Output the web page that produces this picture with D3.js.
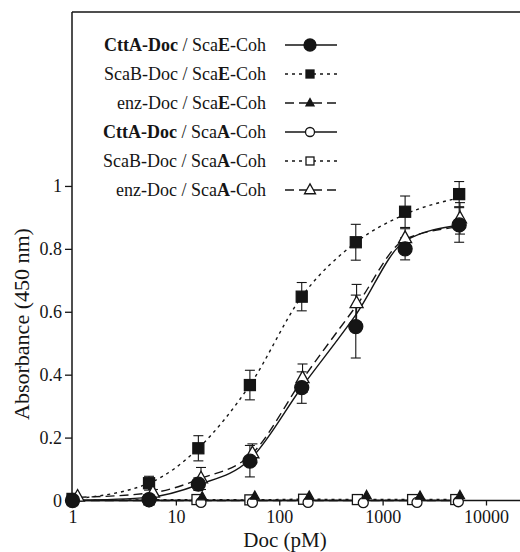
<!DOCTYPE html>
<html>
<head>
<meta charset="utf-8">
<script src="https://cdn.jsdelivr.net/npm/d3@7"></script>
<style>
  body { margin: 0; background: #fff; }
  svg { display: block; font-family: "Liberation Serif", "DejaVu Serif", serif; }
</style>
</head>
<body>
<div id="chart"></div>
<script>
// dose (pM) and absorbance values
const doses = [1, 5.5, 16.5, 52, 165, 550, 1650, 5500];

const cttaScaE = [0, 0.003, 0.052, 0.125, 0.359, 0.553, 0.8, 0.876];
const cttaScaEErr = [0, 0.005, 0.02, 0.05, 0.05, 0.1, 0.035, 0.055];
const cttaScaEFit = [0, 0.01, 0.05, 0.13, 0.36, 0.59, 0.825, 0.875];

const scabScaE = [0.005, 0.055, 0.166, 0.367, 0.648, 0.821, 0.918, 0.974];
const scabScaEErr = [0, 0.022, 0.04, 0.047, 0.045, 0.057, 0.05, 0.04];
const scabScaEFit = [0.005, 0.055, 0.166, 0.367, 0.648, 0.82, 0.91, 0.962];

const enzScaADoses = [1.12, 6, 17.5, 55, 168, 560, 1650, 5600];
const enzScaA = [0.012, 0.025, 0.07, 0.15, 0.389, 0.627, 0.834, 0.897];
const enzScaAErr = [0, 0.01, 0.035, 0.03, 0.045, 0.06, 0.03, 0.05];
const enzScaAFit = [0.01, 0.025, 0.07, 0.15, 0.385, 0.62, 0.83, 0.87];

const enzScaEDoses = [1.1, 6, 18, 58, 195, 700, 2300, 5600];
const enzScaE = [0.008, 0.01, 0.012, 0.014, 0.014, 0.016, 0.014, 0.016];

const cttaScaADoses = [1, 5.5, 17.5, 55, 190, 650, 2150, 5400];
const cttaScaA = [0, -0.004, -0.006, -0.006, -0.006, -0.007, -0.006, -0.004];

const scabScaADoses = [1, 5.5, 16, 52, 172, 570, 1950, 5100];
const scabScaA = [0, 0.002, 0.003, 0.002, 0.004, 0.003, 0.003, 0.003];

const yTicks = [0, 0.2, 0.4, 0.6, 0.8, 1];
const xTicks = [1, 10, 100, 1000, 10000];

const legendRows = [
  { parts: [["CttA-Doc", true], [" / Sca", false], ["E", true], ["-Coh", false]], key: "cE" },
  { parts: [["ScaB-Doc / Sca", false], ["E", true], ["-Coh", false]], key: "sE" },
  { parts: [["enz-Doc / Sca", false], ["E", true], ["-Coh", false]], key: "eE" },
  { parts: [["CttA-Doc", true], [" / Sca", false], ["A", true], ["-Coh", false]], key: "cA" },
  { parts: [["ScaB-Doc / Sca", false], ["A", true], ["-Coh", false]], key: "sA" },
  { parts: [["enz-Doc / Sca", false], ["A", true], ["-Coh", false]], key: "eA" }
];

const W = 520, H = 552;
const ink = "#151515";

const svg = d3.select("#chart").append("svg").attr("width", W).attr("height", H);

const x = d3.scaleLog().domain([1, 10000]).range([72.5, 486]);
const y = d3.scaleLinear().domain([0, 1.553]).range([500.5, 12]);

// series styles
const styles = {
  cE: { dash: null, marker: "circle", fill: ink },
  sE: { dash: "3,4", marker: "square", fill: ink },
  eE: { dash: "9,5", marker: "triangle", fill: ink },
  cA: { dash: null, marker: "circle", fill: "#fff" },
  sA: { dash: "3,4", marker: "square", fill: "#fff" },
  eA: { dash: "9,5", marker: "triangle", fill: "#fff" }
};

function zip(xs, ys, errs) {
  return xs.map((d, i) => ({ x: d, y: ys[i], e: errs ? errs[i] : 0 }));
}

const series = [
  { key: "sA", pts: zip(scabScaADoses, scabScaA), fit: zip(scabScaADoses, scabScaA), size: 10 },
  { key: "cA", pts: zip(cttaScaADoses, cttaScaA), fit: zip(cttaScaADoses, cttaScaA.map(() => 0)), size: 5 },
  { key: "eE", pts: zip(enzScaEDoses, enzScaE), fit: zip(enzScaEDoses, enzScaE.map(() => 0)), size: 9 },
  { key: "sE", pts: zip(doses, scabScaE, scabScaEErr), fit: zip(doses, scabScaEFit), size: 11 },
  { key: "eA", pts: zip(enzScaADoses, enzScaA, enzScaAErr), fit: zip(enzScaADoses, enzScaAFit), size: 13 },
  { key: "cE", pts: zip(doses, cttaScaE, cttaScaEErr), fit: zip(doses, cttaScaEFit), size: 7 }
];

const line = d3.line().x(d => x(d.x)).y(d => y(d.y)).curve(d3.curveMonotoneX);

function drawMarker(g, type, cx, cy, s, fill) {
  if (type === "circle") {
    g.append("circle").attr("cx", cx).attr("cy", cy).attr("r", s)
      .attr("fill", fill).attr("stroke", ink).attr("stroke-width", 1.3);
  } else if (type === "square") {
    g.append("rect").attr("x", cx - s / 2).attr("y", cy - s / 2).attr("width", s).attr("height", s)
      .attr("fill", fill).attr("stroke", ink).attr("stroke-width", 1.3);
  } else {
    const h = s * 0.9;
    g.append("path")
      .attr("d", `M${cx},${cy - h * 0.62}L${cx + s / 2},${cy + h * 0.38}L${cx - s / 2},${cy + h * 0.38}Z`)
      .attr("fill", fill).attr("stroke", ink).attr("stroke-width", 1.3);
  }
}

// axes
const yAxis = svg.append("g").attr("transform", `translate(${x(1) - 0.5},0)`)
  .call(d3.axisLeft(y).tickValues(yTicks).tickSize(7).tickPadding(3).tickFormat(d3.format("")));
const xAxis = svg.append("g").attr("transform", `translate(0,${y(0)})`)
  .call(d3.axisBottom(x).tickValues(xTicks).tickSize(5).tickPadding(5).tickFormat(d3.format("")));
[yAxis, xAxis].forEach(a => {
  a.select(".domain").remove();
  a.selectAll("line").attr("stroke", ink).attr("stroke-width", 1.3);
  a.selectAll("text").attr("fill", ink).style("font-size", "18px").style("font-family", "'Liberation Serif', serif");
});

// frame: left axis, bottom axis, top line
svg.append("line").attr("x1", x(1) - 0.5).attr("x2", x(1) - 0.5).attr("y1", y.range()[1]).attr("y2", y(0))
  .attr("stroke", ink).attr("stroke-width", 1.5);
svg.append("line").attr("x1", x(1) - 0.5).attr("x2", W).attr("y1", y(0)).attr("y2", y(0))
  .attr("stroke", ink).attr("stroke-width", 1.5);
svg.append("line").attr("x1", x(1) - 0.5).attr("x2", W).attr("y1", y.range()[1]).attr("y2", y.range()[1])
  .attr("stroke", ink).attr("stroke-width", 1.5);

// axis titles
svg.append("text").attr("x", 285).attr("y", 547).attr("text-anchor", "middle")
  .attr("fill", ink).style("font-size", "21px").text("Doc (pM)");
svg.append("text").attr("transform", "translate(29,324) rotate(-90)").attr("text-anchor", "middle")
  .attr("fill", ink).style("font-size", "22px").text("Absorbance (450 nm)");

// curves
series.forEach(s => {
  svg.append("path").datum(s.fit).attr("d", line)
    .attr("fill", "none").attr("stroke", ink).attr("stroke-width", 1.4)
    .attr("stroke-dasharray", styles[s.key].dash);
});

// error bars
series.forEach(s => {
  const g = svg.append("g");
  s.pts.filter(d => d.e > 0.004).forEach(d => {
    const cx = x(d.x);
    g.append("line").attr("x1", cx).attr("x2", cx).attr("y1", y(d.y - d.e)).attr("y2", y(d.y + d.e))
      .attr("stroke", ink).attr("stroke-width", 1.1);
    [d.y - d.e, d.y + d.e].forEach(v => {
      g.append("line").attr("x1", cx - 5).attr("x2", cx + 5).attr("y1", y(v)).attr("y2", y(v))
        .attr("stroke", ink).attr("stroke-width", 1.1);
    });
  });
});

// markers
series.forEach(s => {
  const g = svg.append("g");
  const st = styles[s.key];
  s.pts.forEach(d => drawMarker(g, st.marker, x(d.x), y(d.y), s.size, st.fill));
});

// legend
const legendY = [45, 74, 103, 132, 161, 190];
const legendMarkerSize = { cE: 6, sE: 8, eE: 8, cA: 4.5, sA: 8, eA: 11 };
legendRows.forEach((r, i) => {
  const ly = legendY[i];
  const t = svg.append("text").attr("x", 266).attr("y", ly + 6).attr("text-anchor", "end")
    .attr("fill", ink).style("font-size", "18px");
  r.parts.forEach(p => t.append("tspan").attr("font-weight", p[1] ? "bold" : "normal").text(p[0]));
  const st = styles[r.key];
  svg.append("line").attr("x1", 285).attr("x2", 337).attr("y1", ly).attr("y2", ly)
    .attr("stroke", ink).attr("stroke-width", 1.4).attr("stroke-dasharray", st.dash);
  drawMarker(svg, st.marker, 310, ly, legendMarkerSize[r.key], st.fill);
});
</script>
</body>
</html>
